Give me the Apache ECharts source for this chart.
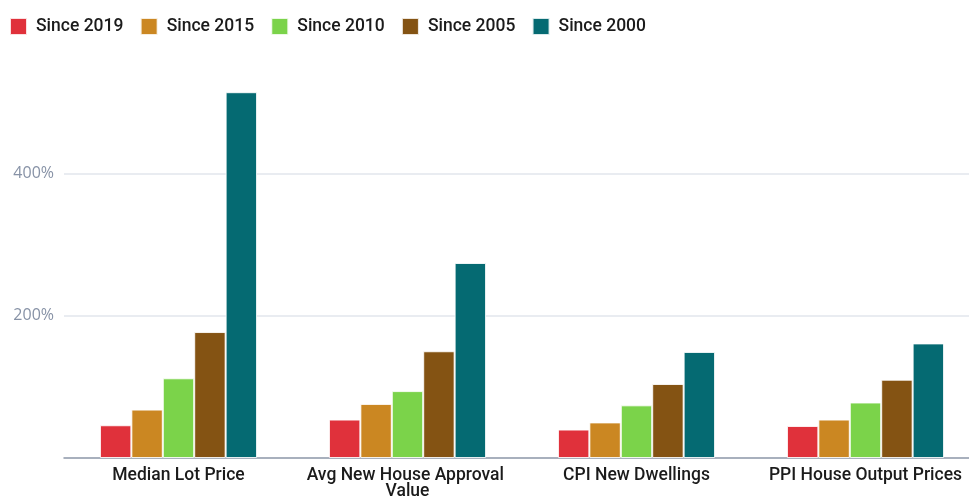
<!DOCTYPE html>
<html>
<head>
<meta charset="utf-8">
<script src="https://cdn.jsdelivr.net/npm/echarts@6/dist/echarts.min.js"></script>
<style>
  html, body { margin: 0; padding: 0; background: #ffffff; }
  /* the plot runs slightly past the right edge of the 969px frame */
  #frame { width: 969px; height: 497px; overflow: hidden; position: relative; }
  #chart { width: 980px; height: 497px; position: absolute; left: 0; top: 0; }
</style>
</head>
<body>
<div id="frame"><div id="chart"></div></div>
<script>
// Price growth by measure, across several base years (percent change)
const categories = ['Median Lot Price', 'Avg New House Approval Value', 'CPI New Dwellings', 'PPI House Output Prices'];
const seriesNames = ['Since 2019', 'Since 2015', 'Since 2010', 'Since 2005', 'Since 2000'];
const since2019 = [46, 54, 40, 45];
const since2015 = [68, 76, 50, 54];
const since2010 = [112, 94, 74, 78];
const since2005 = [177, 150, 104, 110];
const since2000 = [514, 274, 149, 161];
const seriesValues = [since2019, since2015, since2010, since2005, since2000];
const seriesColors = ['#e0313b', '#cb8722', '#7bd34a', '#845313', '#056a72'];

const labelFont = 'Roboto, "Noto Sans", sans-serif';

const chart = echarts.init(document.getElementById('chart'), null, { renderer: 'canvas' });

chart.setOption({
  animation: false,
  backgroundColor: '#ffffff',
  legend: {
    left: 4,
    top: 12,
    icon: 'rect',
    itemWidth: 17,
    itemHeight: 17,
    itemGap: 16.2,
    textStyle: {
      fontFamily: labelFont,
      fontWeight: 500,
      fontSize: 17.5,
      color: '#1b1b1b',
      padding: [0, 0, 0, 4]
    },
    data: seriesNames
  },
  grid: {
    left: 64,
    right: 0,
    top: 31,
    bottom: 39,
    outerBoundsMode: 'none'
  },
  xAxis: {
    type: 'category',
    data: categories,
    axisLine: { lineStyle: { color: '#8c96a8', width: 1.5 } },
    axisTick: { show: false },
    axisLabel: {
      interval: 0,
      margin: 10,
      width: 205,
      overflow: 'break',
      lineHeight: 16,
      fontFamily: labelFont,
      fontWeight: 500,
      fontSize: 17.5,
      color: '#1b1b1b'
    }
  },
  yAxis: {
    type: 'value',
    min: 0,
    max: 600,
    interval: 200,
    axisLine: { show: false },
    axisTick: { show: false },
    axisLabel: {
      showMinLabel: false,
      showMaxLabel: false,
      margin: 10,
      fontFamily: '"Open Sans", sans-serif',
      fontSize: 16,
      color: '#8792a6',
      formatter: '{value}%'
    },
    splitLine: {
      showMinLine: false,
      showMaxLine: false,
      lineStyle: { color: '#e2e6ec', width: 1.5 }
    }
  },
  series: seriesNames.map((name, i) => ({
    name: name,
    type: 'bar',
    data: seriesValues[i],
    barGap: '0%',
    barCategoryGap: '31.4%',
    itemStyle: {
      color: seriesColors[i],
      borderColor: 'rgba(255,255,255,0.85)',
      borderWidth: 1
    }
  }))
});
</script>
</body>
</html>
